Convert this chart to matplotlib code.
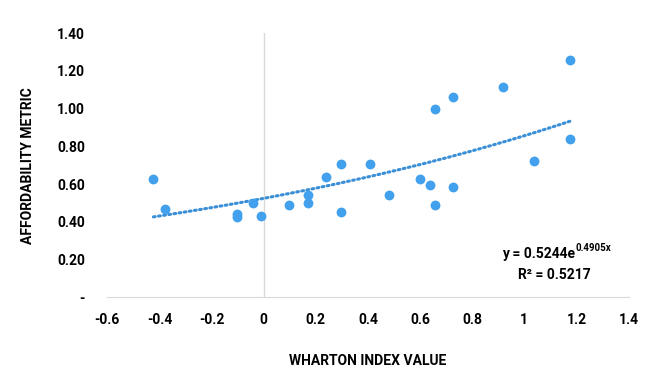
import numpy as np
import matplotlib.pyplot as plt

plt.rcParams['font.family'] = ['Roboto', 'DejaVu Sans']

# Wharton index vs affordability metric
wharton = [-0.423, -0.380, -0.102, -0.102, -0.040, -0.009, 0.099, 0.171, 0.169,
           0.239, 0.297, 0.297, 0.408, 0.481, 0.598, 0.638, 0.659, 0.659,
           0.728, 0.728, 0.917, 1.037, 1.177, 1.177]
afford = [0.628, 0.468, 0.440, 0.424, 0.498, 0.429, 0.489, 0.544, 0.502,
          0.638, 0.452, 0.705, 0.705, 0.544, 0.626, 0.596, 0.491, 0.997,
          1.061, 0.584, 1.115, 0.723, 1.257, 0.840]
fit_a = 0.5244
fit_b = 0.4905
r2 = 0.5217

xticks = [-0.6, -0.4, -0.2, 0, 0.2, 0.4, 0.6, 0.8, 1, 1.2, 1.4]
xticklabels = ['-0.6', '-0.4', '-0.2', '0', '0.2', '0.4', '0.6', '0.8', '1', '1.2', '1.4']
yticks = [0, 0.2, 0.4, 0.6, 0.8, 1.0, 1.2, 1.4]
yticklabels = ['-', '0.20', '0.40', '0.60', '0.80', '1.00', '1.20', '1.40']

fig = plt.figure(figsize=(6.5, 3.91), dpi=100)
ax = fig.add_axes([0.165, 0.2397, 0.802, 0.6753])

ax.axvline(0, color='#d9d9d9', lw=1, zorder=1)
ax.scatter(wharton, afford, s=50, color='#42a0ec', zorder=3, linewidths=0)

xs = np.linspace(min(wharton), max(wharton), 200)
ax.plot(xs, fit_a * np.exp(fit_b * xs), color='#3a8fd6', lw=2.2,
        linestyle=(0, (0.6, 1.1)), dash_capstyle='round', zorder=2)

ax.set_xlim(-0.6, 1.4)
ax.set_ylim(0, 1.4)
ax.set_xticks(xticks)
ax.set_xticklabels(xticklabels)
ax.set_yticks(yticks)
ax.set_yticklabels(yticklabels)
ax.tick_params(axis='both', length=0, labelsize=10)
ax.tick_params(axis='y', pad=16)
ax.tick_params(axis='x', pad=11)
for lab in ax.get_xticklabels() + ax.get_yticklabels():
    lab.set_fontweight('bold')

for s in ['top', 'right', 'left']:
    ax.spines[s].set_visible(False)
ax.spines['bottom'].set_color('#d9d9d9')

ax.set_xlabel('WHARTON INDEX VALUE', fontsize=10, fontweight='bold', labelpad=20)
ax.set_ylabel('AFFORDABILITY METRIC', fontsize=10, fontweight='bold', labelpad=16)

eq = ax.text(0.915, 0.208, f'y = {fit_a:.4f}e', fontsize=10,
             fontweight='bold', ha='left', va='baseline')
ax.annotate(f'{fit_b:.4f}x', xy=(1.0, 0.6), xycoords=eq, fontsize=7,
            fontweight='bold', ha='left', va='bottom')
ax.text(0.977, 0.118, f'R² = {r2:.4f}', fontsize=10, fontweight='bold',
        ha='left', va='center')

fig.savefig('out.png', dpi=100, facecolor='white')
